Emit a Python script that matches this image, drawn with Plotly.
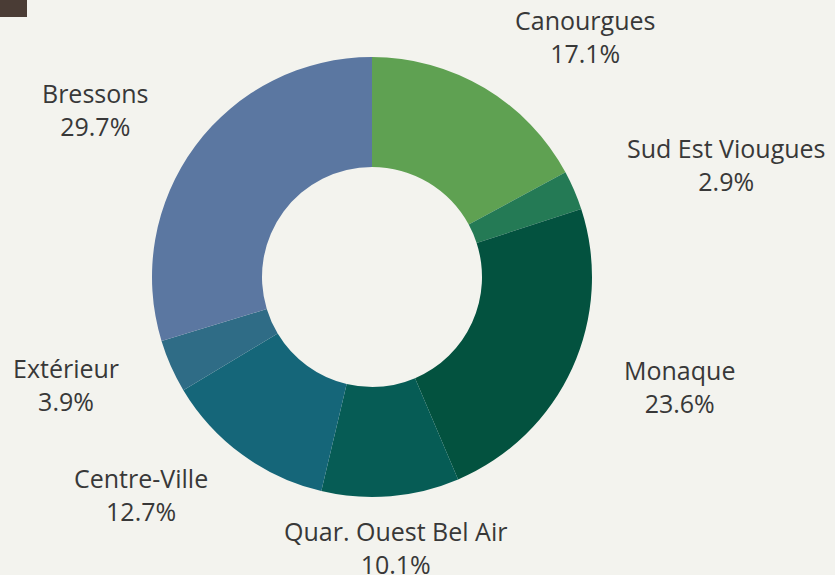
import math
import plotly.graph_objects as go

# Répartition par quartier
quartiers = ["Canourgues", "Sud Est Viougues", "Monaque", "Quar. Ouest Bel Air",
             "Centre-Ville", "Extérieur", "Bressons"]
parts = [17.1, 2.9, 23.6, 10.1, 12.7, 3.9, 29.7]
couleurs = ["#5fa152", "#247a55", "#03523f", "#065c55", "#156679", "#2f6c86", "#5b77a1"]

W, H = 835, 575
cx, cy, r = 372, 277, 220   # centre et rayon du donut (px)
r_lab = 275                 # rayon des étiquettes (px)

fig = go.Figure()
fig.add_trace(go.Pie(
    labels=quartiers,
    values=parts,
    hole=0.5,
    sort=False,
    direction="clockwise",
    rotation=0,
    marker=dict(colors=couleurs, line=dict(width=0)),
    textinfo="none",
    hoverinfo="label+percent",
    showlegend=False,
    domain=dict(x=[(cx - r) / W, (cx + r) / W], y=[(H - cy - r) / H, (H - cy + r) / H]),
))
# axes invisibles en pixels pour placer les étiquettes
fig.add_trace(go.Scatter(x=[], y=[], showlegend=False, hoverinfo="skip"))

total = sum(parts)
cumul = 0
for nom, p in zip(quartiers, parts):
    theta = math.radians((cumul + p / 2) / total * 360)
    cumul += p
    s = math.sin(theta)
    xa = "left" if s > 0.3 else ("right" if s < -0.3 else "center")
    fig.add_annotation(
        x=cx + r_lab * s, y=cy - r_lab * math.cos(theta), xref="x", yref="y",
        text=f"{nom}<br>{p:.1f}%", showarrow=False, xanchor=xa, yanchor="middle",
        yshift=4,
        font=dict(family="Open Sans", size=25, color="#383838"),
    )

fig.add_shape(type="rect", xref="x", yref="y", x0=0, x1=27, y0=0, y1=17,
              fillcolor="#4a3c35", line=dict(width=0))

fig.update_layout(
    width=W, height=H,
    margin=dict(l=0, r=0, t=0, b=0),
    paper_bgcolor="#f3f3ee",
    plot_bgcolor="rgba(0,0,0,0)",
    font=dict(family="Open Sans"),
    xaxis=dict(range=[0, W], visible=False, domain=[0, 1], fixedrange=True),
    yaxis=dict(range=[H, 0], visible=False, domain=[0, 1], fixedrange=True),
)

fig.write_html("out.html", config={"displayModeBar": False},
               post_script="document.body.style.margin='0';")
